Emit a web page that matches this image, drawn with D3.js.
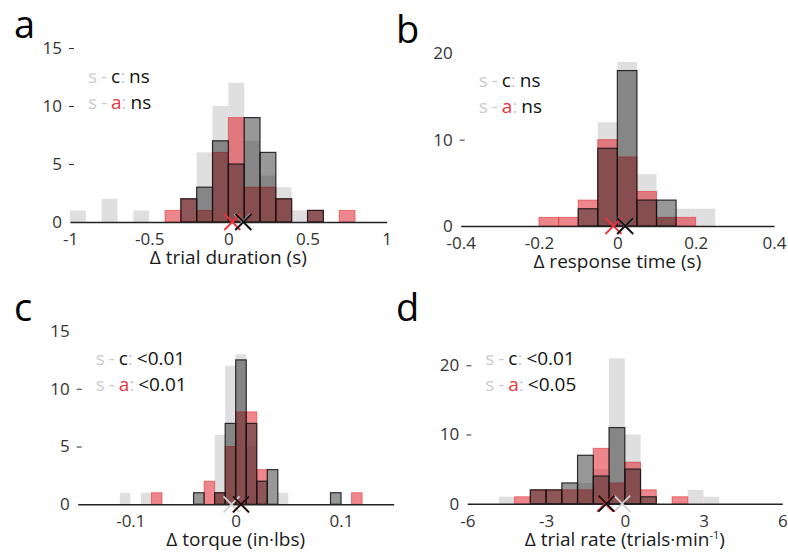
<!DOCTYPE html>
<html>
<head>
<meta charset="utf-8">
<script src="https://cdn.jsdelivr.net/npm/d3@7"></script>
<style>
	body { margin: 0; background: #fff; }
	svg { display: block; font-family: "Open Sans", sans-serif; }
</style>
</head>
<body>
<div id="canvas"></div>
<script>

// histogram counts. s = light gray, c = dark gray, a = red
// a: trial duration, bins of 0.1 s from -1
var durationStart = -1, durationWidth = 0.1
var durationS = [1,0,2,0,1,0,0,0,6,10,12,7,4,3,1,0,0,0,0,0]
var durationC = [0,0,0,0,0,0,0,2,3,7,5,9,6,2,0,1,0,0,0,0]
var durationA = [0,0,0,0,0,0,1,2,1,6,9,3,3,2,0,1,0,1,0,0]
var durationMeans = [0.09, 0.095, 0.025]   // s, c, a

// b: response time, bins of 0.05 s from -0.4
var responseStart = -0.4, responseWidth = 0.05
var responseS = [0,0,0,0,0,0,0,12,19,6,1,2,2,0,0,0]
var responseC = [0,0,0,0,0,0,2,9,18,3,3,0,0,0,0,0]
var responseA = [0,0,0,0,1,1,3,10,8,4,1,1,0,0,0,0]
var responseMeans = [0.02, 0.02, -0.01]

// c: torque, bins of 0.01 from -0.15
var torqueStart = -0.15, torqueWidth = 0.01
var torqueS = [0,0,0,0,1,0,1,0,0,0,0,0,0,6,12,13,5,0,0,1,0,0,0,0,0,0,0,0,0,0]
var torqueC = [0,0,0,0,0,0,0,0,0,0,0,1,0,1,7,12.5,7,2,3,0,0,0,0,0,1,0,0,0,0,0]
var torqueA = [0,0,0,0,0,0,0,1,0,0,0,0,2,1,5,8,8,3,0,0,0,0,0,0,0,0,1,0,0,0]
var torqueMeans = [-0.004, 0.005, 0.005]

// d: trial rate, bins of 0.6 from -6
var rateStart = -6, rateWidth = 0.6
var rateS = [0,0,1,0,0,0,0,3,5,21,10,0,0,0,2,1,0,0,0,0]
var rateC = [0,0,0,0,2,2,3,7,4,11,5,1,0,0,0,0,0,0,0,0]
var rateA = [0,0,0,1,2,2,2,2,8,3,6,2,0,1,0,0,0,0,0,0]
var rateMeans = [-0.1, -0.7, -0.75]

var letters = ["a", "b", "c", "d"]
var xTitles = ["\u0394 trial duration (s)", "\u0394 response time (s)", "\u0394 torque (in\u00b7lbs)", "\u0394 trial rate (trials\u00b7min"]
var xTicksA = [-1, -0.5, 0, 0.5, 1]
var xTicksB = [-0.4, -0.2, 0, 0.2, 0.4]
var xTicksC = [-0.1, 0, 0.1]
var xTicksD = [-6, -3, 0, 3, 6]
var yTicksA = [0, 5, 10, 15], yDashA = [5, 10, 15]
var yTicksB = [0, 10, 20], yDashB = [10]
var yTicksC = [0, 5, 10, 15], yDashC = [5, 10]
var yTicksD = [0, 10, 20], yDashD = [10, 20]
var pValuesC = ["ns", "ns", "<0.01", "<0.01"]
var pValuesA = ["ns", "ns", "<0.01", "<0.05"]

var W = 788, H = 552
var sColor = "#c4c4c4", cColor = "#1a1a1a", aColor = "#e0242c"
var tickColor = "#333"

var svg = d3.select('#canvas').append("svg")
	.attr("width", W)
	.attr("height", H)

// layout of the four panels (pixel frames only)
var panels = [
	{ left: 70, right: 386.7, base: 222, top: 48, yMax: 15, domain: [-1, 1], letterX: 14, letterY: 38,
	  start: durationStart, width: durationWidth, s: durationS, c: durationC, a: durationA, means: durationMeans,
	  xTicks: xTicksA, yTicks: yTicksA, yDash: yDashA },
	{ left: 460.7, right: 774, base: 226, top: 53.3, yMax: 20, domain: [-0.4, 0.4], letterX: 396, letterY: 43,
	  start: responseStart, width: responseWidth, s: responseS, c: responseC, a: responseA, means: responseMeans,
	  xTicks: xTicksB, yTicks: yTicksB, yDash: yDashB },
	{ left: 77.7, right: 393.7, base: 504.3, top: 331, yMax: 15, domain: [-0.15, 0.15], letterX: 14, letterY: 321,
	  start: torqueStart, width: torqueWidth, s: torqueS, c: torqueC, a: torqueA, means: torqueMeans,
	  xTicks: xTicksC, yTicks: yTicksC, yDash: yDashC },
	{ left: 467.3, right: 782.3, base: 503.7, top: 365.3, yMax: 20, domain: [-6, 6], letterX: 396, letterY: 321,
	  start: rateStart, width: rateWidth, s: rateS, c: rateC, a: rateA, means: rateMeans,
	  xTicks: xTicksD, yTicks: yTicksD, yDash: yDashD }
]

function toBins(counts, start, width) {
	return counts.map(function (v, i) {
		return { x0: start + i * width, x1: start + (i + 1) * width, v: v }
	}).filter(function (d) { return d.v > 0 })
}

function drawBars(g, x, y, data, fill, fillOp, stroke, strokeOp, strokeW) {
	g.append("g").selectAll("rect")
		.data(data)
		.enter().append("rect")
			.attr("x", function (d) { return x(d.x0) })
			.attr("y", function (d) { return y(d.v) })
			.attr("width", function (d) { return x(d.x1) - x(d.x0) })
			.attr("height", function (d) { return y(0) - y(d.v) })
			.style("fill", fill)
			.style("fill-opacity", fillOp)
			.style("stroke", stroke)
			.style("stroke-opacity", strokeOp)
			.style("stroke-width", strokeW)
}

function drawPanel(p, k) {
	var g = svg.append("g")
	var x = d3.scaleLinear().domain(p.domain).range([p.left, p.right])
	var y = d3.scaleLinear().domain([0, p.yMax]).range([p.base, p.top])

	drawBars(g, x, y, toBins(p.s, p.start, p.width), sColor, 0.55, "none", 0, 0)
	drawBars(g, x, y, toBins(p.a, p.start, p.width), aColor, 0.55, aColor, 0.55, 1)
	drawBars(g, x, y, toBins(p.c, p.start, p.width), cColor, 0.45, "#111", 0.85, 1.2)

	// x axis: the domain line is the baseline
	var xAxis = g.append("g")
		.attr("transform", "translate(0," + p.base + ")")
		.call(d3.axisBottom(x).tickValues(p.xTicks).tickSize(0).tickSizeOuter(0).tickPadding(11)
			.tickFormat(function (d) { return String(d) }))
	xAxis.select(".domain").style("stroke", "#222").style("stroke-width", 1.5)
	xAxis.selectAll("text").style("font-size", "17px").style("fill", tickColor)
		.style("font-family", "'Open Sans', sans-serif")

	// y axis, no line, little dash marks on some ticks
	var yAxis = g.append("g")
		.attr("transform", "translate(" + (p.left + 4) + ",0)")
		.call(d3.axisLeft(y).tickValues(p.yTicks).tickSize(5).tickPadding(7))
	yAxis.select(".domain").remove()
	yAxis.selectAll(".tick line")
		.style("stroke", tickColor)
		.style("stroke-width", 1)
		.style("opacity", function (d) { return p.yDash.indexOf(d) >= 0 ? 1 : 0 })
	yAxis.selectAll("text").style("font-size", "17px").style("fill", tickColor)
		.style("font-family", "'Open Sans', sans-serif")

	// mean markers
	var markColors = ["#cfcfcf", "#111", "#e8353d"]
	var order = [0, 2, 1]
	order.forEach(function (i) {
		g.append("path")
			.attr("transform", "translate(" + x(p.means[i]) + "," + y(0) + ")")
			.attr("d", "M-8,-8L8,8M-8,8L8,-8")
			.style("stroke", markColors[i])
			.style("stroke-width", 1.8)
			.style("fill", "none")
	})

	// legend
	var lx = p.left + 18, ly = p.base - 139
	var rows = [["c", "#111", pValuesC[k]], ["a", "#e8353d", pValuesA[k]]]
	rows.forEach(function (r, j) {
		var t = g.append("text")
			.attr("x", lx)
			.attr("y", ly + j * 26)
			.style("font-size", "19px")
			.style("word-spacing", "-1px")
		t.append("tspan").text("s - ").style("fill", "#cccccc")
		t.append("tspan").text(r[0]).style("fill", r[1])
		t.append("tspan").text(":").style("fill", "#cccccc")
		t.append("tspan").text(" " + r[2]).style("fill", "#111")
	})

	// x title
	var title = g.append("text")
		.attr("x", (p.left + p.right) / 2)
		.attr("y", p.base + 42)
		.attr("text-anchor", "middle")
		.style("font-size", "19px")
		.style("fill", "#1a1a1a")
		.text(xTitles[k])
	if (k == 3) {
		title.append("tspan").text("-1").style("font-size", "11px").attr("dy", -7)
		title.append("tspan").text(")").attr("dy", 7)
	}

	// panel letter
	svg.append("text")
		.attr("x", p.letterX)
		.attr("y", p.letterY)
		.style("font-size", "38px")
		.style("fill", "#000")
		.text(letters[k])
}

panels.forEach(drawPanel)

</script>
</body>
</html>
